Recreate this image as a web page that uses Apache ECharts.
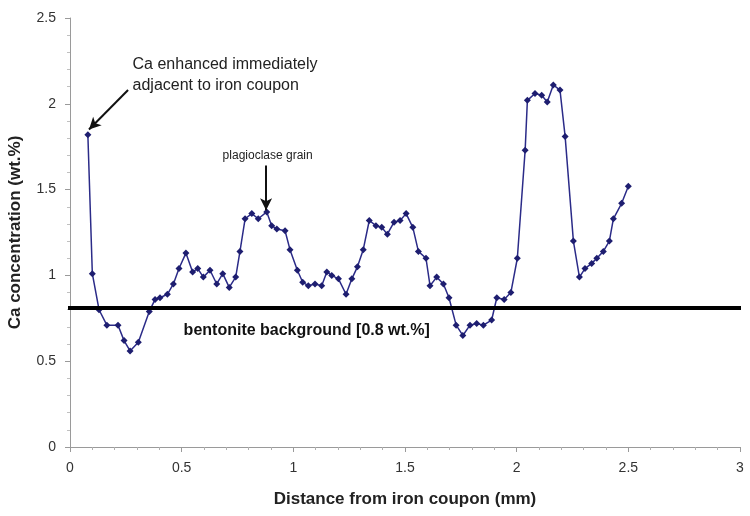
<!DOCTYPE html>
<html>
<head>
<meta charset="utf-8">
<script src="https://cdn.jsdelivr.net/npm/echarts@6/dist/echarts.min.js"></script>
<style>
  html, body { margin: 0; padding: 0; background: #fff; }
  #chart { width: 750px; height: 516px; }
</style>
</head>
<body>
<div id="chart"></div>
<script>
// Ca profile measured away from the iron coupon
const distanceMm = [
  0.08, 0.10, 0.13, 0.165, 0.215, 0.242, 0.269, 0.306, 0.355, 0.381,
  0.403, 0.436, 0.463, 0.488, 0.519, 0.549, 0.572, 0.597, 0.627, 0.657,
  0.684, 0.713, 0.742, 0.761, 0.784, 0.814, 0.843, 0.881, 0.903, 0.926,
  0.963, 0.985, 1.018, 1.042, 1.067, 1.097, 1.127, 1.150, 1.172, 1.202,
  1.236, 1.262, 1.287, 1.313, 1.340, 1.370, 1.396, 1.421, 1.451, 1.478,
  1.505, 1.535, 1.560, 1.594, 1.612, 1.642, 1.672, 1.697, 1.729, 1.759,
  1.791, 1.821, 1.851, 1.888, 1.911, 1.944, 1.974, 2.003, 2.038, 2.048,
  2.082, 2.112, 2.137, 2.164, 2.194, 2.217, 2.254, 2.281, 2.306, 2.336,
  2.359, 2.388, 2.415, 2.433, 2.470, 2.500
];
const caWtPct = [
  1.82, 1.01, 0.80, 0.71, 0.71, 0.62, 0.56, 0.61, 0.79, 0.86,
  0.87, 0.89, 0.95, 1.04, 1.13, 1.02, 1.04, 0.99, 1.03, 0.95,
  1.01, 0.93, 0.99, 1.14, 1.33, 1.36, 1.33, 1.37, 1.29, 1.27,
  1.26, 1.15, 1.03, 0.96, 0.94, 0.95, 0.94, 1.02, 1.00, 0.98,
  0.89, 0.98, 1.05, 1.15, 1.32, 1.29, 1.28, 1.24, 1.31, 1.32,
  1.36, 1.28, 1.14, 1.10, 0.94, 0.99, 0.95, 0.87, 0.71, 0.65,
  0.71, 0.72, 0.71, 0.74, 0.87, 0.86, 0.90, 1.10, 1.73, 2.02,
  2.06, 2.05, 2.01, 2.11, 2.08, 1.81, 1.20, 0.99, 1.04, 1.07,
  1.10, 1.14, 1.20, 1.33, 1.42, 1.52
];

// axis tick values
const xTicks = [0, 0.5, 1, 1.5, 2, 2.5, 3];
const yTicks = [0, 0.5, 1, 1.5, 2, 2.5];

// bentonite background level (wt.%)
const backgroundLevel = 0.81;

// annotation texts and anchors (data units)
const noteCa = ['Ca enhanced immediately', 'adjacent to iron coupon'];
const noteCaAnchor = [0.28, 2.17];
const noteCaArrow = [[0.26, 2.08], [0.085, 1.85]];
const notePlag = 'plagioclase grain';
const notePlagAnchor = [0.885, 1.70];
const notePlagArrow = [[0.878, 1.64], [0.878, 1.38]];
const noteBg = 'bentonite background [0.8 wt.%]';
const noteBgAnchor = [1.06, 0.68];

const font = 'Liberation Sans, Arial, sans-serif';
const points = distanceMm.map((d, i) => [d, caWtPct[i]]);

const chart = echarts.init(document.getElementById('chart'), null, { renderer: 'canvas' });
chart.setOption({
  animation: false,
  backgroundColor: '#ffffff',
  grid: { left: 70, right: 10, top: 18, bottom: 69, containLabel: false, outerBoundsMode: 'none' },
  xAxis: {
    type: 'value',
    min: xTicks[0], max: xTicks[xTicks.length - 1],
    interval: xTicks[1] - xTicks[0],
    name: 'Distance from iron coupon (mm)',
    nameLocation: 'middle',
    nameGap: 44,
    nameTextStyle: { fontFamily: font, fontWeight: 'bold', fontSize: 17, color: '#222' },
    axisLine: { lineStyle: { color: '#9a9a9a', width: 1 } },
    axisTick: { show: true, length: 5, lineStyle: { color: '#9a9a9a' } },
    minorTick: { show: true, splitNumber: 5, length: 3, lineStyle: { color: '#b0b0b0' } },
    axisLabel: { fontFamily: font, fontSize: 14, color: '#333', margin: 14 },
    splitLine: { show: false }
  },
  yAxis: {
    type: 'value',
    min: yTicks[0], max: yTicks[yTicks.length - 1],
    interval: yTicks[1] - yTicks[0],
    name: 'Ca concentration (wt.%)',
    nameLocation: 'middle',
    nameGap: 46,
    nameTextStyle: { fontFamily: font, fontWeight: 'bold', fontSize: 17, color: '#222' },
    axisLine: { show: true, lineStyle: { color: '#9a9a9a', width: 1 } },
    axisTick: { show: true, length: 5, lineStyle: { color: '#9a9a9a' } },
    minorTick: { show: true, splitNumber: 5, length: 3, lineStyle: { color: '#c0c0c0' } },
    axisLabel: { fontFamily: font, fontSize: 14, color: '#333', margin: 14 },
    splitLine: { show: false }
  },
  series: [
    {
      type: 'line',
      data: points,
      symbol: 'diamond',
      symbolSize: 7,
      showAllSymbol: true,
      lineStyle: { color: '#2b2b88', width: 1.5 },
      itemStyle: { color: '#1e1e70' },
      z: 3,
      silent: true
    },
    {
      // background level line, arrows and notes
      type: 'line',
      data: [],
      silent: true,
      markLine: {
        silent: true,
        animation: false,
        label: { show: false },
        data: [
          [
            { yAxis: backgroundLevel, x: 68, symbol: 'none',
              lineStyle: { color: '#000', width: 4, type: 'solid' } },
            { yAxis: backgroundLevel, x: 741, symbol: 'none' }
          ],
          [
            { coord: noteCaArrow[0], symbol: 'none',
              lineStyle: { color: '#111', width: 2, type: 'solid' } },
            { coord: noteCaArrow[1], symbol: 'arrow', symbolSize: [9, 12] }
          ],
          [
            { coord: notePlagArrow[0], symbol: 'none',
              lineStyle: { color: '#111', width: 2, type: 'solid' } },
            { coord: notePlagArrow[1], symbol: 'arrow', symbolSize: [9, 12] }
          ]
        ]
      },
      markPoint: {
        silent: true,
        symbol: 'circle',
        symbolSize: 0,
        data: [
          { coord: noteCaAnchor, label: { show: true, position: 'inside', align: 'left',
              formatter: noteCa.join('\n'), fontFamily: font, fontSize: 16, lineHeight: 21, color: '#222' } },
          { coord: notePlagAnchor, label: { show: true, position: 'inside', align: 'center',
              formatter: notePlag, fontFamily: font, fontSize: 12, color: '#222' } },
          { coord: noteBgAnchor, label: { show: true, position: 'inside', align: 'center',
              formatter: noteBg, fontFamily: font, fontSize: 16, fontWeight: 'bold', color: '#111' } }
        ]
      }
    }
  ]
});
</script>
</body>
</html>
